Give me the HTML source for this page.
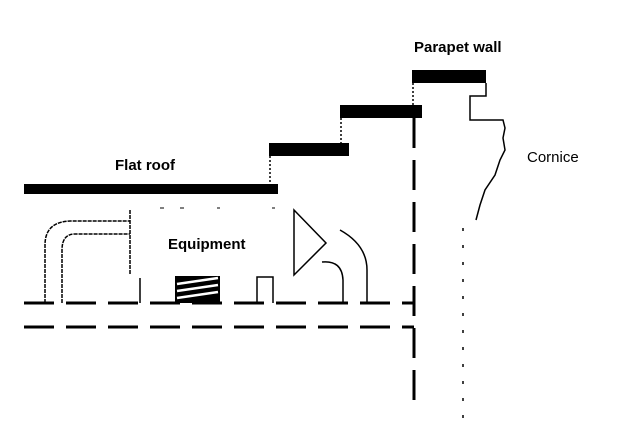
<!DOCTYPE html>
<html><head><style>body{margin:0;background:#fff}svg{display:block}</style></head><body>
<svg width="619" height="428" viewBox="0 0 619 428" xmlns="http://www.w3.org/2000/svg" font-family="Liberation Sans, sans-serif" font-weight="bold">
<rect width="619" height="428" fill="#fff"/>
<g fill="#000">
<rect x="24" y="184" width="254" height="10"/>
<rect x="269" y="143" width="80" height="13"/>
<rect x="340" y="105" width="82" height="13"/>
<rect x="412" y="70" width="74" height="13"/>
</g>
<g stroke="#000" fill="none" stroke-width="1.5">
<path d="M270 156 V184 M341 118 V143 M413 83 V105" stroke-dasharray="2,2"/>
<path d="M486 83 V96 H470 V120 H503 L505 128 L503 138 L505 150 L500 160 L495 175 L485 190 L480 205 L476 220"/>
<path d="M414 118 V400" stroke-width="3" stroke-dasharray="30,12"/>
<path d="M463 228 V420" stroke-dasharray="3,14"/>
<path d="M24 303 H414 M24 327 H414" stroke-width="3" stroke-dasharray="30,12"/>
<path d="M45 303 V245 Q45 222 70 221 H130" stroke-dasharray="4,1"/>
<path d="M62 303 V250 Q62 234 75 234 H130" stroke-dasharray="4,1"/>
<path d="M130 210 V275" stroke-dasharray="4,1"/>
<path d="M140 278 V303"/>
<path d="M257 303 V277 H273 V303"/>
<path d="M294 210 L326 243 L294 275 Z"/>
<path d="M340 230 Q367 245 367 270 V303"/>
<path d="M322 262 Q342 260 343 280 V303"/>
<path d="M160 208 h4 M180 208 h4 M217 208 h3 M272 208 h3" stroke-width="1"/>
</g>
<rect x="175" y="276" width="45" height="27" fill="#000"/>
<path d="M177 284 L218 278 M177 291 L218 285 M177 298 L218 292" stroke="#fff" stroke-width="2.5"/>
<g font-size="15" fill="#000">
<text x="115" y="170">Flat roof</text>
<text x="168" y="249">Equipment</text>
<text x="414" y="52">Parapet wall</text>
<text x="527" y="162" font-weight="normal">Cornice</text>
</g>
</svg>
</body></html>
